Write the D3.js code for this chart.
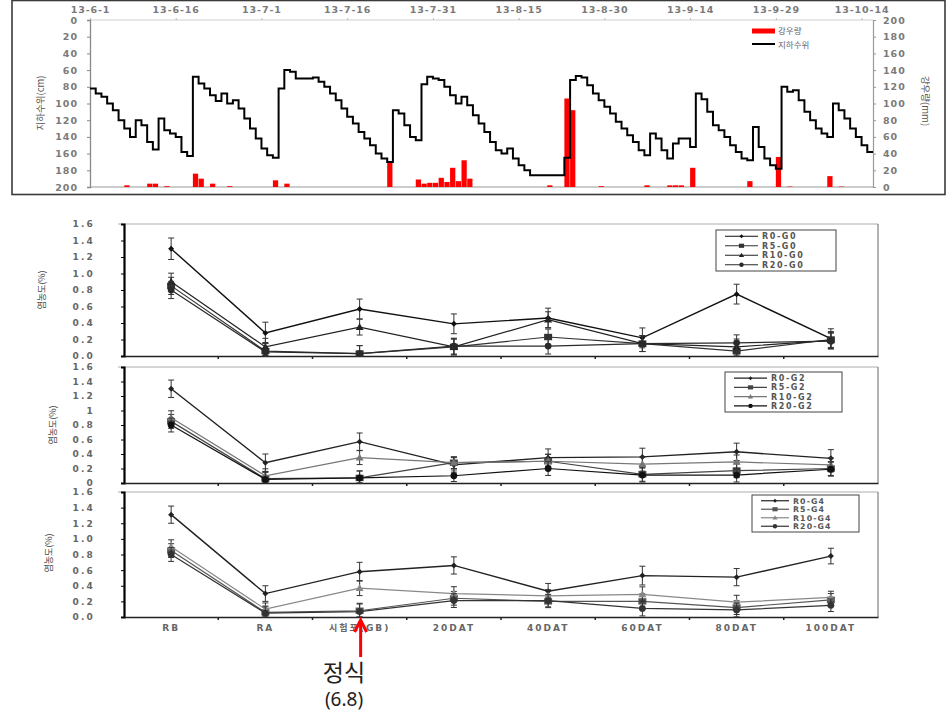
<!DOCTYPE html>
<html><head><meta charset="utf-8">
<script src="https://cdn.jsdelivr.net/npm/d3@7"></script>
<style>body{margin:0;background:#fff} svg{display:block}</style>
</head><body><svg id="c" width="952" height="725"></svg>
<script>
// ---------------- DATA ----------------
const startDate = "2013-06-01";
const endDate = "2013-10-16";
const dateTickLabels = ["2013-06-01","2013-06-16","2013-07-01","2013-07-16","2013-07-31","2013-08-15","2013-08-30","2013-09-14","2013-09-29","2013-10-14"];
// daily groundwater level (cm below surface), day 0 = 2013-06-01
const waterLevel = [82,88,92,100,108,120,130,140,120,126,146,155,118,132,136,140,158,163,68,76,
  82,90,97,88,100,96,106,118,130,142,154,162,165,82,60,62,70,70,70,69,
  74,80,88,96,106,116,124,134,142,150,160,166,170,108,112,126,140,144,77,68,
  70,72,80,90,100,92,102,114,124,134,146,156,160,154,166,174,180,186,186,186,
  186,186,186,165,72,67,69,78,88,96,104,112,122,130,138,146,156,162,136,142,
  156,166,148,142,142,152,88,95,110,126,132,140,150,158,166,168,128,152,166,174,
  178,80,86,84,96,110,120,130,136,140,100,108,118,130,140,150,158,158];
// rainfall (mm): day index and amount
const rainDay = [6,10,11,13,18,19,21,24,32,34,52,57,58,59,60,61,62,63,64,65,66,80,83,84,89,97,101,102,103,105,115,120,122,129,131];
const rainMm  = [2,4,4,1,16,10,4,1,8,4,31,9,4,5,5,11,6,23,7,32,10,2,106,92,1,2,2,2,2,23,7,36,0.5,13,0.5];
const levelTicks = [0,20,40,60,80,100,120,140,160,180,200];

const categories = ["RB","RA","시험포(GB)","20DAT","40DAT","60DAT","80DAT","100DAT"];
const seriesNames = ["R0","R5","R10","R20"];
const saltTicks = [0,0.2,0.4,0.6,0.8,1.0,1.2,1.4,1.6];

const g0_R0  = [1.30,0.28,0.57,0.39,0.46,0.22,0.75,0.21];
const g0_R5  = [0.85,0.06,0.03,0.11,0.23,0.15,0.06,0.20];
const g0_R10 = [0.90,0.11,0.35,0.11,0.44,0.15,0.11,0.19];
const g0_R20 = [0.80,0.05,0.03,0.12,0.12,0.15,0.16,0.18];
const g0_err = [0.13,0.13,0.12,0.12,0.12,0.12,0.12,0.12];

const g2_R0  = [1.30,0.28,0.57,0.25,0.35,0.36,0.43,0.34];
const g2_R5  = [0.85,0.06,0.07,0.28,0.30,0.12,0.17,0.20];
const g2_R10 = [0.90,0.10,0.35,0.28,0.30,0.26,0.29,0.25];
const g2_R20 = [0.80,0.05,0.07,0.10,0.20,0.11,0.11,0.19];
const g2_err = [0.12,0.12,0.12,0.10,0.12,0.12,0.12,0.12];

const g4_R0  = [1.31,0.30,0.58,0.66,0.33,0.53,0.51,0.78];
const g4_R5  = [0.85,0.06,0.08,0.24,0.20,0.20,0.12,0.22];
const g4_R10 = [0.90,0.10,0.37,0.30,0.27,0.29,0.19,0.25];
const g4_R20 = [0.80,0.05,0.07,0.21,0.21,0.11,0.09,0.15];
const g4_err = [0.11,0.10,0.12,0.11,0.10,0.12,0.11,0.10];

// ---------------- DRAW ----------------
const FONT = "'DejaVu Sans','Noto Sans CJK KR',sans-serif";
const KFONT = "'Noto Sans CJK KR','DejaVu Sans',sans-serif";
const svg = d3.select("#c");

// ===== Top chart =====
const T = {left:90, right:873, top:20, bottom:187};
const parse = d3.timeParse("%Y-%m-%d");
const d0 = parse(startDate);
const dayDate = i => d3.timeDay.offset(d0, i);
const xT = d3.scaleTime().domain([d0, parse(endDate)]).range([T.left, T.right]);
const yL = d3.scaleLinear().domain([0,200]).range([T.top, T.bottom]);
const yR = d3.scaleLinear().domain([0,200]).range([T.bottom, T.top]);

svg.append("rect").attr("x",12).attr("y",0.5).attr("width",933).attr("height",194)
  .attr("fill","#fff").attr("stroke","#3a3a3a").attr("stroke-width",1.6);

svg.append("line").attr("x1",T.left).attr("x2",T.right).attr("y1",T.top).attr("y2",T.top).attr("stroke","#d0d0d0");
svg.append("line").attr("x1",T.left).attr("x2",T.right).attr("y1",T.bottom).attr("y2",T.bottom).attr("stroke","#9a9a9a").attr("stroke-width",1.2);

const fmtDate = d => `${String(d.getFullYear()).slice(2)}-${d.getMonth()+1}-${d.getDate()}`;
const axTop = svg.append("g").attr("transform",`translate(0,${T.top})`)
  .call(d3.axisTop(xT).tickValues(dateTickLabels.map(parse)).tickFormat(fmtDate).tickSize(2).tickPadding(5));
axTop.select(".domain").remove();
axTop.selectAll("line").attr("stroke","#bbb");
axTop.selectAll("text").attr("font-family",FONT).attr("font-size",9.5).attr("font-weight","bold")
  .attr("fill","#7a7a7a").attr("letter-spacing",0.9);

const axL = svg.append("g").attr("transform",`translate(${T.left},0)`)
  .call(d3.axisLeft(yL).tickValues(levelTicks).tickSize(3).tickPadding(9));
axL.select(".domain").attr("stroke","#888").attr("stroke-width",1.3);
axL.selectAll("line").attr("stroke","#888");
axL.selectAll("text").attr("font-family",FONT).attr("font-size",9.5).attr("font-weight","bold")
  .attr("fill","#7a7a7a").attr("letter-spacing",1);

const axR = svg.append("g").attr("transform",`translate(${T.right},0)`)
  .call(d3.axisRight(yR).tickValues(levelTicks).tickSize(3).tickPadding(7));
axR.select(".domain").attr("stroke","#999").attr("stroke-width",1.2);
axR.selectAll("line").attr("stroke","#999");
axR.selectAll("text").attr("font-family",FONT).attr("font-size",9.5).attr("font-weight","bold")
  .attr("fill","#7a7a7a").attr("letter-spacing",1);

svg.append("text").attr("transform",`translate(44,103) rotate(-90)`).attr("text-anchor","middle")
  .attr("font-family",KFONT).attr("font-size",9.5).attr("fill","#555").text("지하수위(cm)");
svg.append("text").attr("transform",`translate(922,101) rotate(90)`).attr("text-anchor","middle")
  .attr("font-family",KFONT).attr("font-size",9.5).attr("fill","#555").text("강우량(mm)");

// rain bars
const dayW = xT(dayDate(1)) - xT(dayDate(0));
svg.append("g").selectAll("rect").data(rainDay.map((d,i)=>({d, v:rainMm[i]}))).join("rect")
  .attr("x", r => xT(dayDate(r.d)))
  .attr("width", dayW*0.92)
  .attr("y", r => yR(r.v))
  .attr("height", r => yR(0) - yR(r.v))
  .attr("fill","#ff0000");

// water level step line
const lineW = d3.line().x((v,i)=>xT(dayDate(i))).y(v=>yL(v)).curve(d3.curveStepAfter);
svg.append("path").attr("d", lineW(waterLevel)).attr("fill","none").attr("stroke","#000").attr("stroke-width",2);

// legend top
svg.append("rect").attr("x",752).attr("y",28.5).attr("width",23).attr("height",5).attr("fill","#ff0000");
svg.append("text").attr("x",778).attr("y",34).attr("font-family",KFONT).attr("font-size",8.5).attr("fill","#666").text("강우량");
svg.append("line").attr("x1",752).attr("x2",775).attr("y1",44).attr("y2",44).attr("stroke","#000").attr("stroke-width",2);
svg.append("text").attr("x",778).attr("y",47.5).attr("font-family",KFONT).attr("font-size",8.5).attr("fill","#666").text("지하수위");

// ===== Bottom panels =====
const P = {left:124, right:878};
const xB = d3.scaleBand().domain(categories).range([P.left, P.right]);
const panels = [
  {top:224, bottom:356, g:"G0", data:[g0_R0,g0_R5,g0_R10,g0_R20], err:g0_err, fmt:d3.format(".1f"),
   colors:["#111","#333","#222","#2a2a2a"], legend:{x:716,y:230,w:120,h:41}, title:{x:45,y:290}},
  {top:367, bottom:483, g:"G2", data:[g2_R0,g2_R5,g2_R10,g2_R20], err:g2_err, fmt:d => String(+d.toFixed(1)),
   colors:["#222","#444","#777","#111"], legend:{x:725,y:372,w:117,h:40}, title:{x:56,y:425}},
  {top:492, bottom:617, g:"G4", data:[g4_R0,g4_R5,g4_R10,g4_R20], err:g4_err, fmt:d3.format(".1f"),
   colors:["#222","#555","#888","#333"], legend:{x:752,y:495,w:107,h:37}, title:{x:52,y:553}}
];

function marker(g, type, x, y, color, s) {
  if (type===0) g.append("path").attr("d",`M${x},${y-s}L${x+s},${y}L${x},${y+s}L${x-s},${y}Z`).attr("fill",color);
  else if (type===1) g.append("rect").attr("x",x-s).attr("y",y-s*0.8).attr("width",2*s).attr("height",1.6*s).attr("fill",color);
  else if (type===2) g.append("path").attr("d",`M${x},${y-s}L${x+s},${y+s*0.7}L${x-s},${y+s*0.7}Z`).attr("fill",color);
  else g.append("circle").attr("cx",x).attr("cy",y).attr("r",s*0.85).attr("fill",color);
}

panels.forEach((p, pi) => {
  const y = d3.scaleLinear().domain([0,1.6]).range([p.bottom, p.top]);
  const g = svg.append("g");
  g.append("line").attr("x1",P.left-6).attr("x2",P.right).attr("y1",p.top).attr("y2",p.top).attr("stroke","#c8c8c8").attr("stroke-width",1.5);
  g.append("line").attr("x1",P.right).attr("x2",P.right).attr("y1",p.top).attr("y2",p.bottom).attr("stroke","#666").attr("stroke-width",1);
  const ay = g.append("g").attr("transform",`translate(${P.left},0)`)
    .call(d3.axisLeft(y).tickValues(saltTicks).tickFormat(p.fmt).tickSize(3).tickPadding(26));
  ay.select(".domain").attr("stroke","#000").attr("stroke-width",2.2);
  ay.selectAll("line").attr("stroke","#000");
  ay.selectAll("text").attr("font-family",FONT).attr("font-size",9).attr("font-weight","bold")
    .attr("fill","#666").attr("letter-spacing",2.2);
  const ax = g.append("g").attr("transform",`translate(0,${p.bottom})`)
    .call(d3.axisBottom(xB).tickSize(0).tickPadding(8).tickFormat(pi===2 ? (d=>d) : (()=>"")));
  ax.select(".domain").attr("stroke","#222").attr("stroke-width",1.6);
  ax.selectAll("text").attr("font-family",FONT).attr("font-size",9).attr("font-weight","bold")
    .attr("fill","#666").attr("letter-spacing",2);
  g.append("g").selectAll("line").data(categories.slice(1)).join("line")
    .attr("x1", c => xB(c)).attr("x2", c => xB(c))
    .attr("y1", p.bottom).attr("y2", p.bottom+3).attr("stroke","#222").attr("stroke-width",1.5);
  svg.append("text").attr("transform",`translate(${p.title.x},${p.title.y}) rotate(-90)`).attr("text-anchor","middle")
    .attr("font-family",KFONT).attr("font-size",9).attr("fill","#444").text("염농도(%)");

  const cx = c => xB(c) + xB.bandwidth()/2;
  p.data.forEach((vals, si) => {
    const col = p.colors[si];
    const line = d3.line().x((v,i)=>cx(categories[i])).y(v=>y(v));
    g.append("path").attr("d", line(vals)).attr("fill","none").attr("stroke",col).attr("stroke-width", si===0?1.4:1.2);
    vals.forEach((v,i) => {
      const e = si===0 ? p.err[i] : p.err[i]*0.8;
      const x0 = cx(categories[i]);
      g.append("line").attr("x1",x0).attr("x2",x0).attr("y1",y(v+e)).attr("y2",y(Math.max(0,v-e))).attr("stroke","#333").attr("stroke-width",1);
      g.append("line").attr("x1",x0-3).attr("x2",x0+3).attr("y1",y(v+e)).attr("y2",y(v+e)).attr("stroke","#333");
      g.append("line").attr("x1",x0-3).attr("x2",x0+3).attr("y1",y(Math.max(0,v-e))).attr("y2",y(Math.max(0,v-e))).attr("stroke","#333");
      marker(g, si, x0, y(v), col, si===0?3:4);
    });
  });

  const L = p.legend;
  g.append("rect").attr("x",L.x).attr("y",L.y).attr("width",L.w).attr("height",L.h)
    .attr("fill","#fff").attr("stroke","#444").attr("stroke-width",1);
  const step = (L.h-3)/4;
  const fs = Math.min(8, step*0.92);
  seriesNames.forEach((s, si) => {
    const ly = L.y + 1.5 + step*(si+0.5);
    const lx = L.x + 9;
    const lineLen = pi===2 ? 28 : 33;
    g.append("line").attr("x1",lx).attr("x2",lx+lineLen).attr("y1",ly).attr("y2",ly).attr("stroke",p.colors[si]).attr("stroke-width",1.2);
    marker(g, si, lx+lineLen/2, ly, p.colors[si], si===0?2:2.6);
    g.append("text").attr("x",lx+lineLen+4).attr("y",ly+fs*0.36).attr("font-family",FONT).attr("font-size",fs)
      .attr("font-weight","bold").attr("fill","#555").attr("letter-spacing",pi===2?1.1:1.6).text(`${s}-${p.g}`);
  });
});

// ===== Arrow annotation =====
const ax0 = xB(categories[2]) + xB.bandwidth()/2 + 1;
svg.append("line").attr("x1",ax0).attr("x2",ax0).attr("y1",657).attr("y2",622).attr("stroke","#ff0000").attr("stroke-width",3);
svg.append("path").attr("d",`M${ax0-6},${632}L${ax0},${620}L${ax0+6},${632}`).attr("fill","none")
  .attr("stroke","#ff0000").attr("stroke-width",3).attr("stroke-linejoin","miter");
svg.append("text").attr("x",344).attr("y",681).attr("text-anchor","middle").attr("font-family",KFONT)
  .attr("font-size",23).attr("fill","#222").text("정식");
svg.append("text").attr("x",344).attr("y",706).attr("text-anchor","middle").attr("font-family","'Noto Sans','DejaVu Sans',sans-serif")
  .attr("font-size",19).attr("fill","#222").text("(6.8)");
</script></body></html>
